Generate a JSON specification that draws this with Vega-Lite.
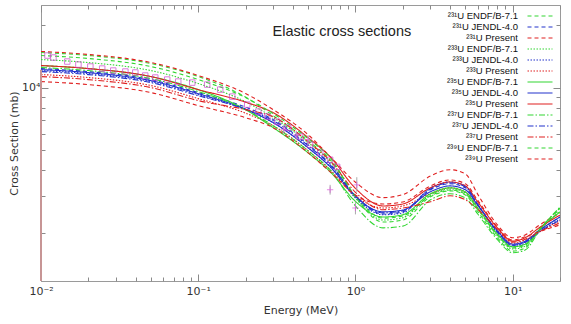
{
  "$schema": "https://vega.github.io/schema/vega-lite/v6.json",
  "width": 519,
  "height": 276,
  "autosize": {"type": "none"},
  "padding": {"left": 41, "top": 5, "right": 11, "bottom": 43},
  "background": "white",
  "config": {
    "view": {"stroke": "#9a9a9a", "strokeWidth": 1},
    "font": "DejaVu Sans",
    "legend": {
      "orient": "top-right", "offset": 5, "symbolType": "M-2.5,0H2.5", "symbolSize": 100,
      "symbolStrokeWidth": 1.2, "labelFontSize": 9.5, "labelFont": "Liberation Sans", "labelColor": "#111",
      "labelAlign": "right", "labelOffset": -28, "rowPadding": 0, "labelLimit": 0, "padding": 0
    }
  },
  "datasets": {
    "curves": [
      {"s":"²³¹U ENDF/B-7.1","e":0.01,"v":14760},{"s":"²³¹U ENDF/B-7.1","e":0.02,"v":14280},{"s":"²³¹U ENDF/B-7.1","e":0.05,"v":13060},{"s":"²³¹U ENDF/B-7.1","e":0.1,"v":11310},{"s":"²³¹U ENDF/B-7.1","e":0.2,"v":9000},{"s":"²³¹U ENDF/B-7.1","e":0.3,"v":7320},{"s":"²³¹U ENDF/B-7.1","e":0.5,"v":5540},{"s":"²³¹U ENDF/B-7.1","e":0.7,"v":4440},{"s":"²³¹U ENDF/B-7.1","e":1,"v":3010},{"s":"²³¹U ENDF/B-7.1","e":1.5,"v":2350},{"s":"²³¹U ENDF/B-7.1","e":2,"v":2410},{"s":"²³¹U ENDF/B-7.1","e":3,"v":3010},{"s":"²³¹U ENDF/B-7.1","e":4,"v":3210},{"s":"²³¹U ENDF/B-7.1","e":5,"v":3070},{"s":"²³¹U ENDF/B-7.1","e":6,"v":2590},{"s":"²³¹U ENDF/B-7.1","e":8,"v":1950},{"s":"²³¹U ENDF/B-7.1","e":10,"v":1690},{"s":"²³¹U ENDF/B-7.1","e":12,"v":1740},{"s":"²³¹U ENDF/B-7.1","e":15,"v":2120},{"s":"²³¹U ENDF/B-7.1","e":20,"v":2600},
      {"s":"²³¹U JENDL-4.0","e":0.01,"v":12350},{"s":"²³¹U JENDL-4.0","e":0.02,"v":11940},{"s":"²³¹U JENDL-4.0","e":0.05,"v":10930},{"s":"²³¹U JENDL-4.0","e":0.1,"v":9460},{"s":"²³¹U JENDL-4.0","e":0.2,"v":8050},{"s":"²³¹U JENDL-4.0","e":0.3,"v":7010},{"s":"²³¹U JENDL-4.0","e":0.5,"v":5310},{"s":"²³¹U JENDL-4.0","e":0.7,"v":4250},{"s":"²³¹U JENDL-4.0","e":1,"v":3010},{"s":"²³¹U JENDL-4.0","e":1.5,"v":2460},{"s":"²³¹U JENDL-4.0","e":2,"v":2520},{"s":"²³¹U JENDL-4.0","e":3,"v":3220},{"s":"²³¹U JENDL-4.0","e":4,"v":3440},{"s":"²³¹U JENDL-4.0","e":5,"v":3290},{"s":"²³¹U JENDL-4.0","e":6,"v":2720},{"s":"²³¹U JENDL-4.0","e":8,"v":2020},{"s":"²³¹U JENDL-4.0","e":10,"v":1740},{"s":"²³¹U JENDL-4.0","e":12,"v":1800},{"s":"²³¹U JENDL-4.0","e":15,"v":2060},{"s":"²³¹U JENDL-4.0","e":20,"v":2380},
      {"s":"²³¹U Present","e":0.01,"v":14930},{"s":"²³¹U Present","e":0.02,"v":14440},{"s":"²³¹U Present","e":0.05,"v":13210},{"s":"²³¹U Present","e":0.1,"v":11430},{"s":"²³¹U Present","e":0.2,"v":9360},{"s":"²³¹U Present","e":0.3,"v":7830},{"s":"²³¹U Present","e":0.5,"v":5930},{"s":"²³¹U Present","e":0.7,"v":4600},{"s":"²³¹U Present","e":1,"v":3500},{"s":"²³¹U Present","e":1.5,"v":2950},{"s":"²³¹U Present","e":2,"v":3050},{"s":"²³¹U Present","e":3,"v":3750},{"s":"²³¹U Present","e":4,"v":4020},{"s":"²³¹U Present","e":5,"v":3840},{"s":"²³¹U Present","e":6,"v":3060},{"s":"²³¹U Present","e":8,"v":2180},{"s":"²³¹U Present","e":10,"v":1890},{"s":"²³¹U Present","e":12,"v":1950},{"s":"²³¹U Present","e":15,"v":2190},{"s":"²³¹U Present","e":20,"v":2490},
      {"s":"²³³U ENDF/B-7.1","e":0.01,"v":13650},{"s":"²³³U ENDF/B-7.1","e":0.02,"v":13200},{"s":"²³³U ENDF/B-7.1","e":0.05,"v":12080},{"s":"²³³U ENDF/B-7.1","e":0.1,"v":10460},{"s":"²³³U ENDF/B-7.1","e":0.2,"v":8550},{"s":"²³³U ENDF/B-7.1","e":0.3,"v":7170},{"s":"²³³U ENDF/B-7.1","e":0.5,"v":5430},{"s":"²³³U ENDF/B-7.1","e":0.7,"v":4340},{"s":"²³³U ENDF/B-7.1","e":1,"v":2940},{"s":"²³³U ENDF/B-7.1","e":1.5,"v":2300},{"s":"²³³U ENDF/B-7.1","e":2,"v":2360},{"s":"²³³U ENDF/B-7.1","e":3,"v":3040},{"s":"²³³U ENDF/B-7.1","e":4,"v":3250},{"s":"²³³U ENDF/B-7.1","e":5,"v":3110},{"s":"²³³U ENDF/B-7.1","e":6,"v":2590},{"s":"²³³U ENDF/B-7.1","e":8,"v":1930},{"s":"²³³U ENDF/B-7.1","e":10,"v":1670},{"s":"²³³U ENDF/B-7.1","e":12,"v":1720},{"s":"²³³U ENDF/B-7.1","e":15,"v":2080},{"s":"²³³U ENDF/B-7.1","e":20,"v":2540},
      {"s":"²³³U JENDL-4.0","e":0.01,"v":12080},{"s":"²³³U JENDL-4.0","e":0.02,"v":11680},{"s":"²³³U JENDL-4.0","e":0.05,"v":10690},{"s":"²³³U JENDL-4.0","e":0.1,"v":9250},{"s":"²³³U JENDL-4.0","e":0.2,"v":7830},{"s":"²³³U JENDL-4.0","e":0.3,"v":6780},{"s":"²³³U JENDL-4.0","e":0.5,"v":5130},{"s":"²³³U JENDL-4.0","e":0.7,"v":4110},{"s":"²³³U JENDL-4.0","e":1,"v":2940},{"s":"²³³U JENDL-4.0","e":1.5,"v":2440},{"s":"²³³U JENDL-4.0","e":2,"v":2490},{"s":"²³³U JENDL-4.0","e":3,"v":3290},{"s":"²³³U JENDL-4.0","e":4,"v":3510},{"s":"²³³U JENDL-4.0","e":5,"v":3360},{"s":"²³³U JENDL-4.0","e":6,"v":2740},{"s":"²³³U JENDL-4.0","e":8,"v":1990},{"s":"²³³U JENDL-4.0","e":10,"v":1720},{"s":"²³³U JENDL-4.0","e":12,"v":1780},{"s":"²³³U JENDL-4.0","e":15,"v":2030},{"s":"²³³U JENDL-4.0","e":20,"v":2330},
      {"s":"²³³U Present","e":0.01,"v":11560},{"s":"²³³U Present","e":0.02,"v":11180},{"s":"²³³U Present","e":0.05,"v":10230},{"s":"²³³U Present","e":0.1,"v":8850},{"s":"²³³U Present","e":0.2,"v":7530},{"s":"²³³U Present","e":0.3,"v":6550},{"s":"²³³U Present","e":0.5,"v":4960},{"s":"²³³U Present","e":0.7,"v":3970},{"s":"²³³U Present","e":1,"v":3010},{"s":"²³³U Present","e":1.5,"v":2630},{"s":"²³³U Present","e":2,"v":2690},{"s":"²³³U Present","e":3,"v":3080},{"s":"²³³U Present","e":4,"v":3290},{"s":"²³³U Present","e":5,"v":3140},{"s":"²³³U Present","e":6,"v":2690},{"s":"²³³U Present","e":8,"v":2060},{"s":"²³³U Present","e":10,"v":1780},{"s":"²³³U Present","e":12,"v":1840},{"s":"²³³U Present","e":15,"v":2040},{"s":"²³³U Present","e":20,"v":2280},
      {"s":"²³⁵U ENDF/B-7.1","e":0.01,"v":12770},{"s":"²³⁵U ENDF/B-7.1","e":0.02,"v":12350},{"s":"²³⁵U ENDF/B-7.1","e":0.05,"v":11300},{"s":"²³⁵U ENDF/B-7.1","e":0.1,"v":9780},{"s":"²³⁵U ENDF/B-7.1","e":0.2,"v":7830},{"s":"²³⁵U ENDF/B-7.1","e":0.3,"v":6410},{"s":"²³⁵U ENDF/B-7.1","e":0.5,"v":4850},{"s":"²³⁵U ENDF/B-7.1","e":0.7,"v":3890},{"s":"²³⁵U ENDF/B-7.1","e":1,"v":2830},{"s":"²³⁵U ENDF/B-7.1","e":1.5,"v":2380},{"s":"²³⁵U ENDF/B-7.1","e":2,"v":2440},{"s":"²³⁵U ENDF/B-7.1","e":3,"v":3080},{"s":"²³⁵U ENDF/B-7.1","e":4,"v":3290},{"s":"²³⁵U ENDF/B-7.1","e":5,"v":3140},{"s":"²³⁵U ENDF/B-7.1","e":6,"v":2630},{"s":"²³⁵U ENDF/B-7.1","e":8,"v":1970},{"s":"²³⁵U ENDF/B-7.1","e":10,"v":1710},{"s":"²³⁵U ENDF/B-7.1","e":12,"v":1760},{"s":"²³⁵U ENDF/B-7.1","e":15,"v":2090},{"s":"²³⁵U ENDF/B-7.1","e":20,"v":2520},
      {"s":"²³⁵U JENDL-4.0","e":0.01,"v":12210},{"s":"²³⁵U JENDL-4.0","e":0.02,"v":11810},{"s":"²³⁵U JENDL-4.0","e":0.05,"v":10800},{"s":"²³⁵U JENDL-4.0","e":0.1,"v":9350},{"s":"²³⁵U JENDL-4.0","e":0.2,"v":7870},{"s":"²³⁵U JENDL-4.0","e":0.3,"v":6780},{"s":"²³⁵U JENDL-4.0","e":0.5,"v":5130},{"s":"²³⁵U JENDL-4.0","e":0.7,"v":4110},{"s":"²³⁵U JENDL-4.0","e":1,"v":2990},{"s":"²³⁵U JENDL-4.0","e":1.5,"v":2520},{"s":"²³⁵U JENDL-4.0","e":2,"v":2570},{"s":"²³⁵U JENDL-4.0","e":3,"v":3150},{"s":"²³⁵U JENDL-4.0","e":4,"v":3360},{"s":"²³⁵U JENDL-4.0","e":5,"v":3220},{"s":"²³⁵U JENDL-4.0","e":6,"v":2710},{"s":"²³⁵U JENDL-4.0","e":8,"v":2040},{"s":"²³⁵U JENDL-4.0","e":10,"v":1760},{"s":"²³⁵U JENDL-4.0","e":12,"v":1820},{"s":"²³⁵U JENDL-4.0","e":15,"v":2070},{"s":"²³⁵U JENDL-4.0","e":20,"v":2380},
      {"s":"²³⁵U Present","e":0.01,"v":12770},{"s":"²³⁵U Present","e":0.02,"v":12350},{"s":"²³⁵U Present","e":0.05,"v":11300},{"s":"²³⁵U Present","e":0.1,"v":9780},{"s":"²³⁵U Present","e":0.2,"v":8510},{"s":"²³⁵U Present","e":0.3,"v":7570},{"s":"²³⁵U Present","e":0.5,"v":5740},{"s":"²³⁵U Present","e":0.7,"v":4590},{"s":"²³⁵U Present","e":1,"v":3270},{"s":"²³⁵U Present","e":1.5,"v":2690},{"s":"²³⁵U Present","e":2,"v":2750},{"s":"²³⁵U Present","e":3,"v":3290},{"s":"²³⁵U Present","e":4,"v":3510},{"s":"²³⁵U Present","e":5,"v":3360},{"s":"²³⁵U Present","e":6,"v":2810},{"s":"²³⁵U Present","e":8,"v":2110},{"s":"²³⁵U Present","e":10,"v":1820},{"s":"²³⁵U Present","e":12,"v":1890},{"s":"²³⁵U Present","e":15,"v":2130},{"s":"²³⁵U Present","e":20,"v":2430},
      {"s":"²³⁷U ENDF/B-7.1","e":0.01,"v":12490},{"s":"²³⁷U ENDF/B-7.1","e":0.02,"v":12080},{"s":"²³⁷U ENDF/B-7.1","e":0.05,"v":11050},{"s":"²³⁷U ENDF/B-7.1","e":0.1,"v":9570},{"s":"²³⁷U ENDF/B-7.1","e":0.2,"v":7830},{"s":"²³⁷U ENDF/B-7.1","e":0.3,"v":6550},{"s":"²³⁷U ENDF/B-7.1","e":0.5,"v":4960},{"s":"²³⁷U ENDF/B-7.1","e":0.7,"v":3970},{"s":"²³⁷U ENDF/B-7.1","e":1,"v":2690},{"s":"²³⁷U ENDF/B-7.1","e":1.5,"v":2110},{"s":"²³⁷U ENDF/B-7.1","e":2,"v":2150},{"s":"²³⁷U ENDF/B-7.1","e":3,"v":2880},{"s":"²³⁷U ENDF/B-7.1","e":4,"v":3080},{"s":"²³⁷U ENDF/B-7.1","e":5,"v":2940},{"s":"²³⁷U ENDF/B-7.1","e":6,"v":2460},{"s":"²³⁷U ENDF/B-7.1","e":8,"v":1850},{"s":"²³⁷U ENDF/B-7.1","e":10,"v":1600},{"s":"²³⁷U ENDF/B-7.1","e":12,"v":1650},{"s":"²³⁷U ENDF/B-7.1","e":15,"v":2080},{"s":"²³⁷U ENDF/B-7.1","e":20,"v":2660},
      {"s":"²³⁷U JENDL-4.0","e":0.01,"v":11940},{"s":"²³⁷U JENDL-4.0","e":0.02,"v":11550},{"s":"²³⁷U JENDL-4.0","e":0.05,"v":10570},{"s":"²³⁷U JENDL-4.0","e":0.1,"v":9140},{"s":"²³⁷U JENDL-4.0","e":0.2,"v":7870},{"s":"²³⁷U JENDL-4.0","e":0.3,"v":6930},{"s":"²³⁷U JENDL-4.0","e":0.5,"v":5250},{"s":"²³⁷U JENDL-4.0","e":0.7,"v":4200},{"s":"²³⁷U JENDL-4.0","e":1,"v":3010},{"s":"²³⁷U JENDL-4.0","e":1.5,"v":2490},{"s":"²³⁷U JENDL-4.0","e":2,"v":2550},{"s":"²³⁷U JENDL-4.0","e":3,"v":3250},{"s":"²³⁷U JENDL-4.0","e":4,"v":3480},{"s":"²³⁷U JENDL-4.0","e":5,"v":3320},{"s":"²³⁷U JENDL-4.0","e":6,"v":2740},{"s":"²³⁷U JENDL-4.0","e":8,"v":2020},{"s":"²³⁷U JENDL-4.0","e":10,"v":1740},{"s":"²³⁷U JENDL-4.0","e":12,"v":1800},{"s":"²³⁷U JENDL-4.0","e":15,"v":2030},{"s":"²³⁷U JENDL-4.0","e":20,"v":2300},
      {"s":"²³⁷U Present","e":0.01,"v":11300},{"s":"²³⁷U Present","e":0.02,"v":10930},{"s":"²³⁷U Present","e":0.05,"v":10000},{"s":"²³⁷U Present","e":0.1,"v":8660},{"s":"²³⁷U Present","e":0.2,"v":7830},{"s":"²³⁷U Present","e":0.3,"v":7240},{"s":"²³⁷U Present","e":0.5,"v":5490},{"s":"²³⁷U Present","e":0.7,"v":4390},{"s":"²³⁷U Present","e":1,"v":3130},{"s":"²³⁷U Present","e":1.5,"v":2580},{"s":"²³⁷U Present","e":2,"v":2630},{"s":"²³⁷U Present","e":3,"v":2820},{"s":"²³⁷U Present","e":4,"v":3010},{"s":"²³⁷U Present","e":5,"v":2880},{"s":"²³⁷U Present","e":6,"v":2590},{"s":"²³⁷U Present","e":8,"v":2080},{"s":"²³⁷U Present","e":10,"v":1800},{"s":"²³⁷U Present","e":12,"v":1860},{"s":"²³⁷U Present","e":15,"v":2030},{"s":"²³⁷U Present","e":20,"v":2230},
      {"s":"²³⁹U ENDF/B-7.1","e":0.01,"v":14280},{"s":"²³⁹U ENDF/B-7.1","e":0.02,"v":13810},{"s":"²³⁹U ENDF/B-7.1","e":0.05,"v":12630},{"s":"²³⁹U ENDF/B-7.1","e":0.1,"v":10930},{"s":"²³⁹U ENDF/B-7.1","e":0.2,"v":8950},{"s":"²³⁹U ENDF/B-7.1","e":0.3,"v":7490},{"s":"²³⁹U ENDF/B-7.1","e":0.5,"v":5670},{"s":"²³⁹U ENDF/B-7.1","e":0.7,"v":4540},{"s":"²³⁹U ENDF/B-7.1","e":1,"v":2970},{"s":"²³⁹U ENDF/B-7.1","e":1.5,"v":2250},{"s":"²³⁹U ENDF/B-7.1","e":2,"v":2300},{"s":"²³⁹U ENDF/B-7.1","e":3,"v":2980},{"s":"²³⁹U ENDF/B-7.1","e":4,"v":3180},{"s":"²³⁹U ENDF/B-7.1","e":5,"v":3040},{"s":"²³⁹U ENDF/B-7.1","e":6,"v":2530},{"s":"²³⁹U ENDF/B-7.1","e":8,"v":1890},{"s":"²³⁹U ENDF/B-7.1","e":10,"v":1630},{"s":"²³⁹U ENDF/B-7.1","e":12,"v":1690},{"s":"²³⁹U ENDF/B-7.1","e":15,"v":2090},{"s":"²³⁹U ENDF/B-7.1","e":20,"v":2630},
      {"s":"²³⁹U Present","e":0.01,"v":10690},{"s":"²³⁹U Present","e":0.02,"v":10340},{"s":"²³⁹U Present","e":0.05,"v":9460},{"s":"²³⁹U Present","e":0.1,"v":8190},{"s":"²³⁹U Present","e":0.2,"v":7160},{"s":"²³⁹U Present","e":0.3,"v":6410},{"s":"²³⁹U Present","e":0.5,"v":4850},{"s":"²³⁹U Present","e":0.7,"v":3890},{"s":"²³⁹U Present","e":1,"v":3040},{"s":"²³⁹U Present","e":1.5,"v":2750},{"s":"²³⁹U Present","e":2,"v":2810},{"s":"²³⁹U Present","e":3,"v":3360},{"s":"²³⁹U Present","e":4,"v":3590},{"s":"²³⁹U Present","e":5,"v":3440},{"s":"²³⁹U Present","e":6,"v":2860},{"s":"²³⁹U Present","e":8,"v":2130},{"s":"²³⁹U Present","e":10,"v":1840},{"s":"²³⁹U Present","e":12,"v":1910},{"s":"²³⁹U Present","e":15,"v":2030},{"s":"²³⁹U Present","e":20,"v":2180}
    ],
    "squares": [
      {"e":0.011,"v":14270},{"e":0.012,"v":13960},{"e":0.0147,"v":13350},{"e":0.0173,"v":12910},{"e":0.0206,"v":12630},{"e":0.0245,"v":12350},{"e":0.0288,"v":12080},{"e":0.0344,"v":11950},{"e":0.0398,"v":11820},{"e":0.046,"v":11430},{"e":0.0533,"v":11180},{"e":0.0635,"v":10930},{"e":0.0746,"v":10690},{"e":0.0916,"v":10570},{"e":0.114,"v":10340},{"e":0.138,"v":9780},{"e":0.1645,"v":9050},{"e":0.205,"v":8280},{"e":0.241,"v":7660},{"e":0.275,"v":7250},{"e":0.318,"v":6850},{"e":0.373,"v":6410},{"e":0.445,"v":5800},{"e":0.515,"v":5310},{"e":0.597,"v":4850},{"e":0.69,"v":4490},{"e":0.765,"v":4150}
    ],
    "crosses": [
      {"e":0.35,"v":6300,"lo":6000,"hi":6600},{"e":0.42,"v":5900,"lo":5600,"hi":6200},{"e":0.5,"v":5610,"lo":5300,"hi":5900},{"e":0.69,"v":3220,"lo":3050,"hi":3400},{"e":1.02,"v":3400,"lo":3150,"hi":3700},{"e":1.0,"v":2630,"lo":2450,"hi":2820}
    ],
    "edge": [{"e":0.01,"lo":1170,"hi":12200}],
    "label": [{"e":0.82,"v":18600,"t":"Elastic cross sections"}]
  },
  "layer": [
    {
      "data": {"name": "curves"},
      "mark": {"type": "line", "interpolate": "monotone", "strokeWidth": 1.1, "clip": true},
      "encoding": {
        "x": {"field": "e", "type": "quantitative", "scale": {"type": "log", "domain": [0.01, 20], "nice": false},
          "axis": {"orient": "bottom", "title": "Energy (MeV)", "grid": false, "domain": false,
            "values": [0.01,0.02,0.03,0.04,0.05,0.06,0.07,0.08,0.09,0.1,0.2,0.3,0.4,0.5,0.6,0.7,0.8,0.9,1,2,3,4,5,6,7,8,9,10,20],
            "labelExpr": "datum.value == 0.01 ? '10⁻²' : datum.value == 0.1 ? '10⁻¹' : datum.value == 1 ? '10⁰' : datum.value == 10 ? '10¹' : ''",
            "tickSize": {"condition": {"test": "datum.value == 0.01 || datum.value == 0.1 || datum.value == 1 || datum.value == 10", "value": -7}, "value": -4},
            "tickColor": "#8a8a8a", "labelColor": "#333", "labelFontSize": 11, "labelPadding": 11, "labelFlush": false,
            "titleColor": "#333", "titleFontSize": 11, "titleFontWeight": "normal", "titlePadding": 8}},
        "y": {"field": "v", "type": "quantitative", "scale": {"type": "log", "domain": [1170, 25000], "nice": false},
          "axis": {"orient": "left", "title": "Cross Section (mb)", "grid": false, "domain": false,
            "values": [2000,3000,4000,5000,6000,7000,8000,9000,10000,20000],
            "labelExpr": "datum.value == 10000 ? '10⁴' : ''",
            "tickSize": {"condition": {"test": "datum.value == 10000", "value": -7}, "value": -4},
            "tickColor": "#8a8a8a", "labelColor": "#333", "labelFontSize": 11, "labelPadding": 8,
            "titleColor": "#333", "titleFontSize": 11, "titleFontWeight": "normal", "titlePadding": 2}},
        "color": {"field": "s", "type": "nominal", "title": null,
          "scale": {"domain": ["²³¹U ENDF/B-7.1","²³¹U JENDL-4.0","²³¹U Present","²³³U ENDF/B-7.1","²³³U JENDL-4.0","²³³U Present","²³⁵U ENDF/B-7.1","²³⁵U JENDL-4.0","²³⁵U Present","²³⁷U ENDF/B-7.1","²³⁷U JENDL-4.0","²³⁷U Present","²³⁹U ENDF/B-7.1","²³⁹U Present"],
            "range": ["#33d633","#2233cc","#e02020","#33d633","#2233cc","#e02020","#33d633","#2233cc","#e02020","#33d633","#2233cc","#e02020","#33d633","#e02020"]}},
        "strokeDash": {"field": "s", "type": "nominal", "title": null,
          "scale": {"domain": ["²³¹U ENDF/B-7.1","²³¹U JENDL-4.0","²³¹U Present","²³³U ENDF/B-7.1","²³³U JENDL-4.0","²³³U Present","²³⁵U ENDF/B-7.1","²³⁵U JENDL-4.0","²³⁵U Present","²³⁷U ENDF/B-7.1","²³⁷U JENDL-4.0","²³⁷U Present","²³⁹U ENDF/B-7.1","²³⁹U Present"],
            "range": [[4,3],[4,3],[4,3],[1.5,1.5],[1.5,1.5],[1.5,1.5],[1,0],[1,0],[1,0],[6,2,1.5,2],[6,2,1.5,2],[6,2,1.5,2],[4,3],[4,3]]}}
      }
    },
    {
      "data": {"name": "squares"},
      "mark": {"type": "point", "shape": "square", "filled": false, "size": 30, "strokeWidth": 1, "color": "#cc44cc"},
      "encoding": {
        "x": {"field": "e", "type": "quantitative", "scale": {"type": "log", "domain": [0.01, 20], "nice": false}, "axis": null},
        "y": {"field": "v", "type": "quantitative", "scale": {"type": "log", "domain": [1170, 25000], "nice": false}, "axis": null}
      }
    },
    {
      "data": {"name": "crosses"},
      "mark": {"type": "rule", "color": "#aaaaaa", "strokeWidth": 1},
      "encoding": {
        "x": {"field": "e", "type": "quantitative", "scale": {"type": "log", "domain": [0.01, 20], "nice": false}, "axis": null},
        "y": {"field": "lo", "type": "quantitative", "scale": {"type": "log", "domain": [1170, 25000], "nice": false}, "axis": null},
        "y2": {"field": "hi"}
      }
    },
    {
      "data": {"name": "crosses"},
      "mark": {"type": "point", "shape": "M-1,0H1M0,-1V1", "filled": false, "size": 40, "strokeWidth": 1, "color": "#dd55dd"},
      "encoding": {
        "x": {"field": "e", "type": "quantitative", "scale": {"type": "log", "domain": [0.01, 20], "nice": false}, "axis": null},
        "y": {"field": "v", "type": "quantitative", "scale": {"type": "log", "domain": [1170, 25000], "nice": false}, "axis": null}
      }
    },
    {
      "data": {"name": "edge"},
      "mark": {"type": "rule", "color": "#c79595", "strokeWidth": 2},
      "encoding": {
        "x": {"field": "e", "type": "quantitative", "scale": {"type": "log", "domain": [0.01, 20], "nice": false}, "axis": null},
        "y": {"field": "lo", "type": "quantitative", "scale": {"type": "log", "domain": [1170, 25000], "nice": false}, "axis": null},
        "y2": {"field": "hi"}
      }
    },
    {
      "data": {"name": "label"},
      "mark": {"type": "text", "font": "Liberation Sans", "fontSize": 14.5, "color": "#222"},
      "encoding": {
        "x": {"field": "e", "type": "quantitative", "scale": {"type": "log", "domain": [0.01, 20], "nice": false},
          "axis": {"orient": "top", "title": null, "labels": false, "grid": false, "domain": false,
            "values": [0.01,0.02,0.03,0.04,0.05,0.06,0.07,0.08,0.09,0.1,0.2,0.3,0.4,0.5,0.6,0.7,0.8,0.9,1,2,3,4,5,6,7,8,9,10,20],
            "tickSize": {"condition": {"test": "datum.value == 0.01 || datum.value == 0.1 || datum.value == 1 || datum.value == 10", "value": -7}, "value": -4},
            "tickColor": "#8a8a8a"}},
        "y": {"field": "v", "type": "quantitative", "scale": {"type": "log", "domain": [1170, 25000], "nice": false},
          "axis": {"orient": "right", "title": null, "labels": false, "grid": false, "domain": false,
            "values": [2000,3000,4000,5000,6000,7000,8000,9000,10000,20000],
            "tickSize": {"condition": {"test": "datum.value == 10000", "value": -7}, "value": -4},
            "tickColor": "#8a8a8a"}},
        "text": {"field": "t"}
      }
    }
  ]
}
